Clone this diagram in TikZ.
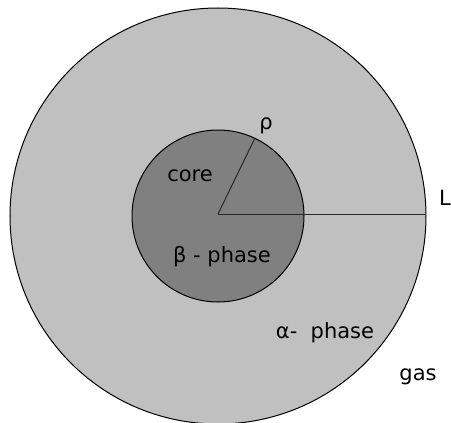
\documentclass[tikz,border=0pt]{standalone}
\usepackage{fontspec}
\setmainfont{DejaVu Sans}
\begin{document}
\begin{tikzpicture}[x=1pt,y=-1pt,
  lbl/.style={inner sep=0pt,font=\fontsize{21}{24}\selectfont},
  ring/.style={draw=black,line width=1pt}]
\useasboundingbox (0,0) rectangle (451,423);
\fill[white] (0,0) rectangle (451,423);
\begin{scope}
\clip (0,0) rectangle (451,423);
\draw[ring,fill={rgb,255:red,192;green,192;blue,192}] (218,216) circle[radius=208];
\end{scope}
\draw[ring,fill={rgb,255:red,128;green,128;blue,128}] (218,216) circle[radius=86];
\coordinate (c) at (218,214);
\coordinate (r) at (255,138);
\coordinate (l) at (426,214);
\draw[line width=1pt,draw={rgb,255:red,40;green,40;blue,40}] (c) -- (r);
\draw[line width=1pt,draw={rgb,255:red,40;green,40;blue,40}] (c) -- (l);
\node[lbl] (rho) at (266,126) {ρ};
\node[lbl] (L) at (445,198) {L};
\node[lbl] (core) at (190,176) {core};
\node[lbl] (beta) at (222,257) {β -\ phase};
\node[lbl] (alpha) at (325,333) {α-\ \ phase};
\node[lbl] (gas) at (418,377) {gas};
\end{tikzpicture}
\end{document}
